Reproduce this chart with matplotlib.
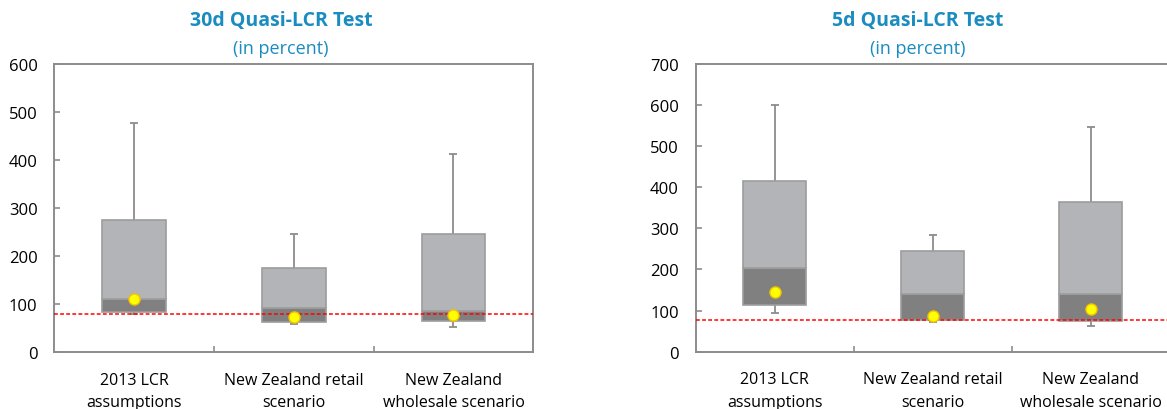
import matplotlib
matplotlib.use("Agg")
import matplotlib.pyplot as plt
import numpy as np

plt.rcParams['font.family'] = ['Open Sans', 'DejaVu Sans']

categories = ['2013 LCR\nassumptions', 'New Zealand retail\nscenario', 'New Zealand\nwholesale scenario']

# 30d test
q1_30 = [85, 63, 65]
med_30 = [111, 92, 86]
q3_30 = [276, 175, 247]
min_30 = [79, 58, 53]
max_30 = [478, 247, 413]
mean_30 = [111, 73, 78]
line_30 = 80

# 5d test
q1_5 = [113, 77, 74]
med_5 = [203, 141, 141]
q3_5 = [416, 244, 365]
min_5 = [95, 72, 62]
max_5 = [600, 283, 546]
mean_5 = [145, 88, 103]
line_5 = 78

blue = '#1a8cc0'
spine_col = '#8c8c8c'


def draw_box_chart(ax, q1, med, q3, lo, hi, mean, ref, ymax, xmax):
    x = np.arange(len(categories))
    w = 0.4
    q1 = np.array(q1); med = np.array(med); q3 = np.array(q3)
    # whiskers
    ax.vlines(x, q3, hi, color='#8c8c8c', lw=1.3, zorder=1)
    ax.vlines(x, lo, q1, color='#8c8c8c', lw=1.3, zorder=1)
    ax.hlines(hi, x - 0.025, x + 0.025, color='#8c8c8c', lw=1.3, zorder=1)
    ax.hlines(lo, x - 0.025, x + 0.025, color='#8c8c8c', lw=1.3, zorder=1)
    # boxes
    ax.bar(x, med - q1, w, bottom=q1, color='#808080', edgecolor='#9c9c9c', lw=1.2, zorder=2)
    ax.bar(x, q3 - med, w, bottom=med, color='#b3b4b8', edgecolor='#9c9c9c', lw=1.2, zorder=2)
    ax.axhline(ref, color='#ff0000', lw=1.1, ls=(0, (2.5, 1.5)), zorder=3)
    ax.plot(x, mean, 'o', ms=8, mfc='#ffff00', mec='#f2c200', mew=1.0, zorder=4)

    ax.set_xlim(-0.5, xmax)
    ax.set_ylim(0, ymax)
    ax.set_yticks(np.arange(0, ymax + 1, 100))
    ax.set_xticks([0.5, 1.5])
    ax.set_xticklabels([])
    ax.set_xticks(x, minor=True)
    ax.set_xticklabels(categories, minor=True, fontsize=11.5, linespacing=1.55)
    ax.tick_params(axis='x', which='major', direction='in', length=4, color=spine_col, width=1.2)
    ax.tick_params(axis='x', which='minor', length=0, pad=14)
    ax.tick_params(axis='y', direction='in', length=4, color=spine_col, width=1.2, labelsize=12, pad=12)
    for s in ax.spines.values():
        s.set_color(spine_col)
        s.set_linewidth(1.4)


fig = plt.figure(figsize=(11.67, 4.10), dpi=100)

ax1 = fig.add_axes([0.0465, 0.1383, 0.4105, 0.702])
draw_box_chart(ax1, q1_30, med_30, q3_30, min_30, max_30, mean_30, line_30, 600, 2.5)

ax2 = fig.add_axes([0.5961, 0.1398, 0.4064, 0.7017])
draw_box_chart(ax2, q1_5, med_5, q3_5, min_5, max_5, mean_5, line_5, 700, 2.5)

fig.text(281 / 1167, 1 - 21 / 410, '30d Quasi-LCR Test', color=blue, fontsize=14, fontweight='bold', ha='center', va='center')
fig.text(281 / 1167, 1 - 49 / 410, '(in percent)', color=blue, fontsize=13, ha='center', va='center')
fig.text(918 / 1167, 1 - 21 / 410, '5d Quasi-LCR Test', color=blue, fontsize=14, fontweight='bold', ha='center', va='center')
fig.text(918 / 1167, 1 - 49 / 410, '(in percent)', color=blue, fontsize=13, ha='center', va='center')

fig.savefig('out.png', dpi=100)
